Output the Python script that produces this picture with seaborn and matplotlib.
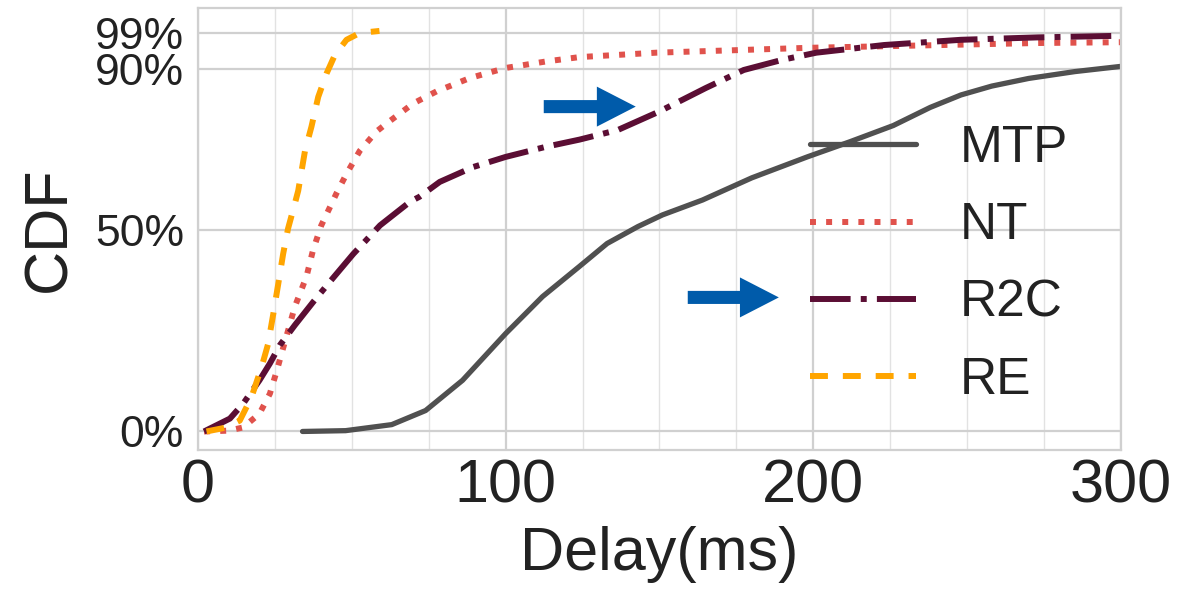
"""
Delay CDF for MTP / NT / R2C / RE, with the two arrow call-outs.
"""

import pandas as pd
import matplotlib
matplotlib.use("Agg")
import matplotlib.pyplot as plt
from matplotlib.ticker import MultipleLocator, FuncFormatter
import seaborn as sns

# ---------------------------------------------------------
# Data (delay in ms, CDF as fraction)
# ---------------------------------------------------------
mtp_x = [34, 48, 63, 74, 86, 100, 112, 124, 133, 143, 151, 164, 180, 198,
         212, 226, 238, 248, 258, 270, 285, 300]
mtp_y = [0.0, 0.002, 0.017, 0.052, 0.127, 0.243, 0.335, 0.41, 0.467, 0.509,
         0.538, 0.575, 0.63, 0.682, 0.72, 0.76, 0.805, 0.836, 0.858, 0.877,
         0.894, 0.907]

nt_x = [2, 10, 14.7, 20, 23.4, 25.6, 27.8, 31.5, 35.3, 37.4, 40.1, 43.4, 45,
        48.3, 52.6, 58, 61.3, 70, 77.6, 88.4, 100, 113, 124, 149, 174, 198,
        223, 248, 273, 300]
nt_y = [0.0, 0.002, 0.01, 0.044, 0.094, 0.15, 0.21, 0.31, 0.385, 0.45, 0.512,
        0.565, 0.591, 0.64, 0.697, 0.745, 0.765, 0.815, 0.845, 0.878, 0.903,
        0.919, 0.93, 0.941, 0.947, 0.953, 0.957, 0.961, 0.965, 0.967]

r2c_x = [2, 10.4, 14.7, 20, 23.4, 26.6, 31.5, 37.5, 42.9, 50.5, 59.2, 69, 72,
         78.6, 89.5, 100, 113, 124, 136.5, 150, 165, 177.4, 189.8, 201, 223,
         248, 273, 300]
r2c_y = [0.0, 0.032, 0.069, 0.127, 0.169, 0.214, 0.264, 0.322, 0.372, 0.441,
         0.512, 0.571, 0.583, 0.62, 0.657, 0.682, 0.707, 0.725, 0.749, 0.795,
         0.853, 0.898, 0.923, 0.941, 0.96, 0.973, 0.979, 0.983]

re_x = [2.8, 9.3, 13.6, 17.4, 20.7, 22.8, 24.5, 26.1, 27.7, 29.3, 31.5, 32.6,
        34.8, 36.9, 39.1, 41.8, 44.5, 48.3, 52.6, 59]
re_y = [0.0, 0.01, 0.027, 0.085, 0.16, 0.217, 0.292, 0.366, 0.441, 0.504,
        0.566, 0.598, 0.697, 0.757, 0.831, 0.889, 0.935, 0.973, 0.99, 0.995]

labels = ["MTP", "NT", "R2C", "RE"]
y_ticks = [0.0, 0.5, 0.9, 0.99]

# arrow call-outs: (tail x, tip x, y) in data units
arrows = [(112.4, 142.3, 0.807), (159.2, 188.8, 0.333)]

# ---------------------------------------------------------
# Styling
# ---------------------------------------------------------
sns.set_style("whitegrid")
plt.rcParams["font.family"] = ["Liberation Sans", "DejaVu Sans"]

styles = {
    "MTP": dict(color="#505050", lw=3.8, linestyle="-"),
    "NT": dict(color="#E0524C", lw=4.3, linestyle=(0, (1, 1.7))),
    "R2C": dict(color="#5B0E34", lw=4.3, linestyle=(0, (6.8, 1.7, 1, 1.7))),
    "RE": dict(color="#FFA500", lw=4.3, linestyle=(0, (3, 2.5))),
}

series = {
    "MTP": (mtp_x, mtp_y),
    "NT": (nt_x, nt_y),
    "R2C": (r2c_x, r2c_y),
    "RE": (re_x, re_y),
}

# ---------------------------------------------------------
# Plot
# ---------------------------------------------------------
fig = plt.figure(figsize=(11.78, 5.92), dpi=100)
ax = fig.add_axes([0.168, 0.2399, 0.7836, 0.7466])

for name in labels:
    xs, ys = series[name]
    df = pd.DataFrame({"delay": xs, "cdf": ys})
    sns.lineplot(data=df, x="delay", y="cdf", ax=ax, label=name,
                 sort=False, estimator=None, **styles[name])

ax.set_xlim(0, 300)
ax.set_ylim(-0.046, 1.052)
ax.xaxis.set_major_locator(MultipleLocator(100))
ax.xaxis.set_minor_locator(MultipleLocator(25))
ax.set_yticks(y_ticks)
ax.yaxis.set_major_formatter(FuncFormatter(lambda v, _: f"{round(v * 100)}%"))

ax.grid(which="major", color="#d0d0d0", lw=1.6)
ax.grid(which="minor", axis="x", color="#e2e2e2", lw=1.0)
for sp in ax.spines.values():
    sp.set_color("#d0d0d0")
    sp.set_linewidth(1.6)

ax.tick_params(axis="x", labelsize=44, pad=6, colors="#222222")
ax.tick_params(axis="y", labelsize=32, pad=10, colors="#222222")
ax.tick_params(which="both", length=0)

ax.set_xlabel("Delay(ms)", fontsize=44, color="#222222", labelpad=8)
ax.set_ylabel("CDF", fontsize=44, color="#222222", labelpad=12)

for x0, x1, y in arrows:
    ax.annotate("", xy=(x1, y), xytext=(x0, y),
                arrowprops=dict(arrowstyle="simple,head_width=28.8,head_length=28,tail_width=9.4",
                                mutation_scale=1, color="#005BAA",
                                shrinkA=0, shrinkB=0, lw=0))

ax.legend(loc="upper left", bbox_to_anchor=(0.663, 0.737), frameon=False,
          fontsize=37, handlelength=2.06, handletextpad=0.85,
          labelspacing=0.55, borderpad=0, borderaxespad=0,
          labelcolor="#222222")

fig.savefig("out.png", dpi=100)
